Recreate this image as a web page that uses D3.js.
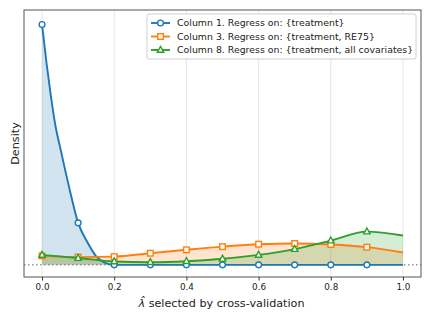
<!DOCTYPE html>
<html>
<head>
<meta charset="utf-8">
<script src="https://cdn.jsdelivr.net/npm/d3@7"></script>
<style>
  body { margin: 0; background: #fff; }
  text { font-family: "DejaVu Sans", sans-serif; fill: #222; }
</style>
</head>
<body>
<svg class="chart" width="431" height="324"></svg>
<script>
// density curves (0 = baseline, 1 = top of the blue peak)
const blueX = [0, 0.0125, 0.025, 0.0375, 0.05, 0.075, 0.1, 0.125, 0.15, 0.175, 0.2, 0.3, 0.4, 0.5, 0.6, 0.7, 0.8, 0.9, 1.0]
const blueY = [0.99, 0.83, 0.69, 0.57, 0.485, 0.32, 0.173, 0.095, 0.035, 0.008, 0.0, 0.0, 0.0, 0.0, 0.0, 0.0, 0.0, 0.0, 0.0]

const gridX = [0, 0.1, 0.2, 0.3, 0.4, 0.5, 0.6, 0.7, 0.8, 0.9, 1.0]
const orangeY = [0.037, 0.032, 0.034, 0.048, 0.062, 0.075, 0.085, 0.088, 0.084, 0.073, 0.051]
const greenY = [0.041, 0.028, 0.014, 0.011, 0.015, 0.025, 0.041, 0.065, 0.1, 0.137, 0.121]

const markerX = [0, 0.1, 0.2, 0.3, 0.4, 0.5, 0.6, 0.7, 0.8, 0.9]
const xTicks = [0, 0.2, 0.4, 0.6, 0.8, 1.0]

const seriesNames = [
  "Column 1. Regress on: {treatment}",
  "Column 3. Regress on: {treatment, RE75}",
  "Column 8. Regress on: {treatment, all covariates}"
]
const colors = ["#1f77b4", "#ff7f0e", "#2ca02c"]
const shapes = ["circle", "square", "triangle"]

const series = [
  { xs: blueX, ys: blueY },
  { xs: gridX, ys: orangeY },
  { xs: gridX, ys: greenY }
].map((s, i) => ({
  name: seriesNames[i],
  color: colors[i],
  shape: shapes[i],
  pts: s.xs.map((x, j) => [x, s.ys[j]])
}))

const svg = d3.select("svg.chart")
const pLeft = 24, pRight = 421, pTop = 10, pBottom = 277

const x = d3.scaleLinear().domain([-0.05, 1.05]).range([pLeft, pRight])
const y = d3.scaleLinear().domain([-0.05, 1.05]).range([pBottom, pTop])

// vertical grid
svg.append("g")
  .selectAll("line")
  .data(xTicks)
  .enter()
  .append("line")
  .attr("x1", d => x(d)).attr("x2", d => x(d))
  .attr("y1", pTop).attr("y2", pBottom)
  .attr("stroke", "#e6e6e6")
  .attr("stroke-width", 1)

const area = d3.area()
  .x(d => x(d[0]))
  .y0(y(0))
  .y1(d => y(d[1]))
  .curve(d3.curveMonotoneX)

const line = d3.line()
  .x(d => x(d[0]))
  .y(d => y(d[1]))
  .curve(d3.curveMonotoneX)

// fills
svg.append("g")
  .selectAll("path")
  .data(series)
  .enter()
  .append("path")
  .attr("d", d => area(d.pts))
  .attr("fill", d => d.color)
  .attr("fill-opacity", 0.2)

// zero line
svg.append("line")
  .attr("x1", pLeft).attr("x2", pRight)
  .attr("y1", y(0)).attr("y2", y(0))
  .attr("stroke", "#666")
  .attr("stroke-width", 1)
  .attr("stroke-dasharray", "1.5,2.5")

function drawMarker(g, shape, color) {
  if (shape === "circle") {
    g.append("circle").attr("r", 2.9)
  } else if (shape === "square") {
    g.append("rect").attr("x", -2.8).attr("y", -2.8).attr("width", 5.6).attr("height", 5.6)
  } else {
    g.append("path").attr("d", "M0,-3.6L3.2,2.3L-3.2,2.3Z")
  }
  g.selectAll("*")
    .attr("fill", "#fff")
    .attr("stroke", color)
    .attr("stroke-width", 1.4)
}

const lineGroups = svg.selectAll("g.series")
  .data(series)
  .enter()
  .append("g")
  .attr("class", "series")

lineGroups.append("path")
  .attr("d", d => line(d.pts))
  .attr("fill", "none")
  .attr("stroke", d => d.color)
  .attr("stroke-width", 1.9)

lineGroups.each(function (d) {
  const g = d3.select(this)
  const lookup = new Map(d.pts.map(p => [Math.round(p[0] * 1000), p[1]]))
  markerX.forEach(mx => {
    const v = lookup.get(Math.round(mx * 1000))
    const m = g.append("g").attr("transform", `translate(${x(mx)},${y(v)})`)
    drawMarker(m, d.shape, d.color)
  })
})

// frame
svg.append("rect")
  .attr("x", pLeft).attr("y", pTop)
  .attr("width", pRight - pLeft).attr("height", pBottom - pTop)
  .attr("fill", "none")
  .attr("stroke", "#555")
  .attr("stroke-width", 1)

// x axis
const xAxis = svg.append("g")
  .attr("transform", `translate(0,${pBottom})`)
  .call(d3.axisBottom(x).tickValues(xTicks).tickFormat(d3.format(".1f")).tickSize(3.5).tickPadding(3))
xAxis.select(".domain").remove()
xAxis.selectAll("line").attr("stroke", "#333")
xAxis.selectAll("text").attr("font-size", 8.8).attr("font-family", "DejaVu Sans").attr("fill", "#222")

// axis labels
const xl = svg.append("text")
  .attr("x", (pLeft + pRight) / 2 - 1)
  .attr("y", 307)
  .attr("text-anchor", "middle")
  .attr("font-size", 11.2)
xl.append("tspan").attr("font-style", "italic").text("λ\u0302")
xl.append("tspan").text(" selected by cross-validation")

svg.append("text")
  .attr("transform", `translate(19,${(pTop + pBottom) / 2}) rotate(-90)`)
  .attr("text-anchor", "middle")
  .attr("font-size", 11.2)
  .text("Density")

// legend
const legend = svg.append("g").attr("transform", "translate(147,14)")
legend.append("rect")
  .attr("width", 269).attr("height", 45)
  .attr("rx", 2)
  .attr("fill", "#fff").attr("fill-opacity", 0.85)
  .attr("stroke", "#d0d0d0")

const items = legend.selectAll("g.item")
  .data(series)
  .enter()
  .append("g")
  .attr("class", "item")
  .attr("transform", (d, i) => `translate(0,${9 + i * 13.5})`)

items.append("line")
  .attr("x1", 4).attr("x2", 23)
  .attr("stroke", d => d.color)
  .attr("stroke-width", 1.9)

items.each(function (d) {
  const m = d3.select(this).append("g").attr("transform", "translate(13.5,0)")
  drawMarker(m, d.shape, d.color)
})

items.append("text")
  .attr("x", 30)
  .attr("y", 3.3)
  .attr("font-size", 9.4)
  .text(d => d.name)
</script>
</body>
</html>
